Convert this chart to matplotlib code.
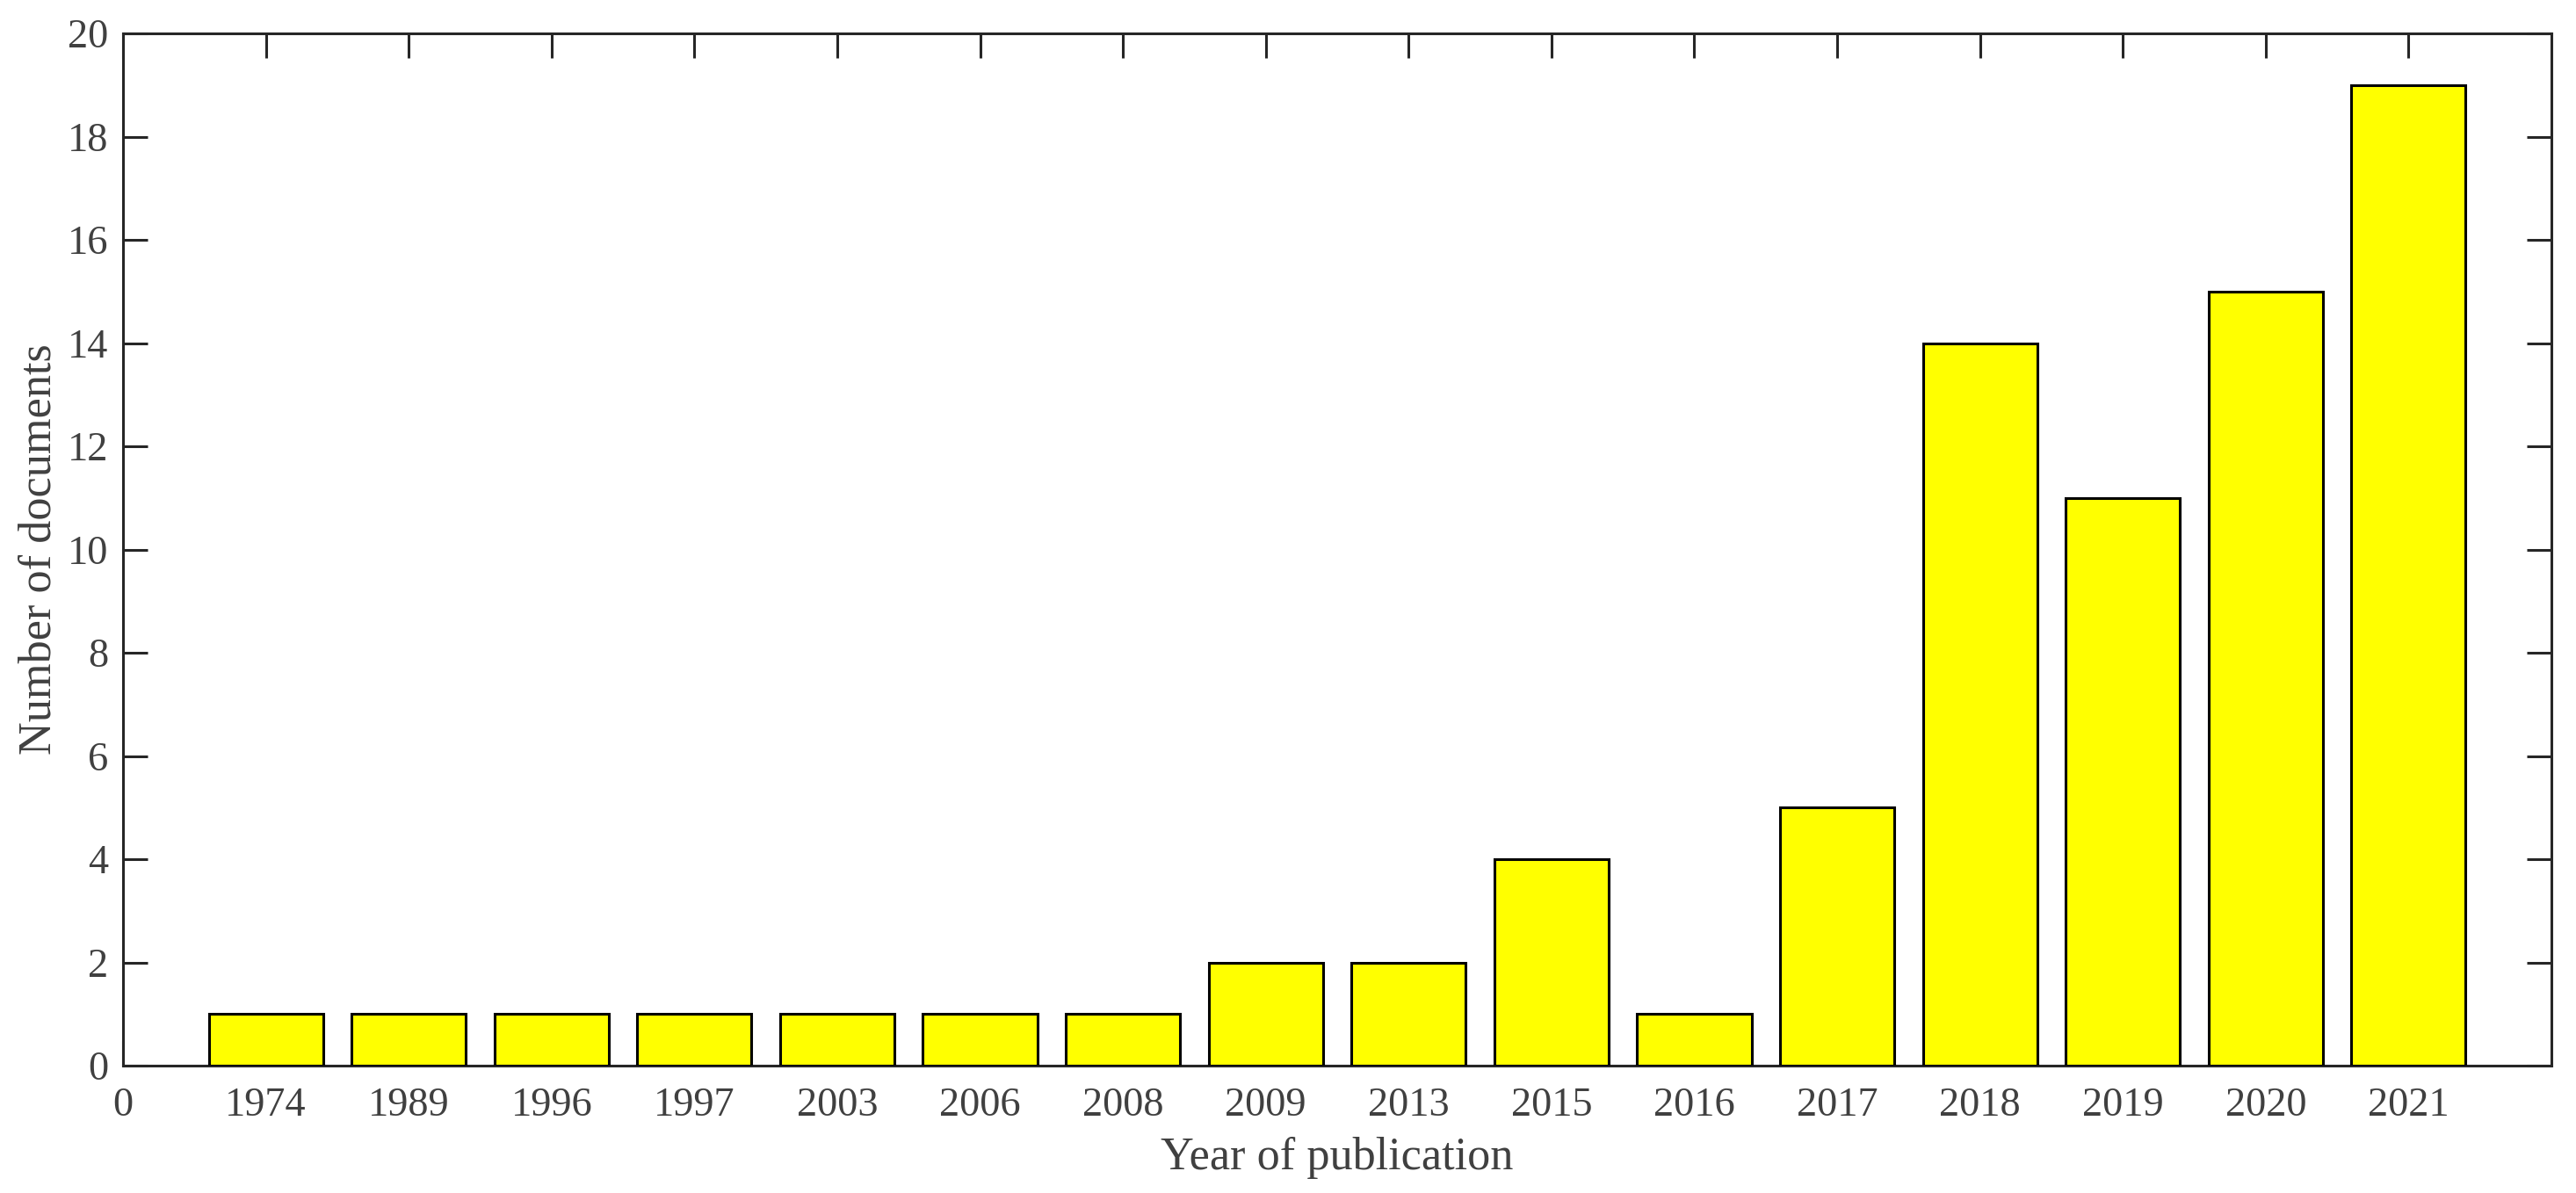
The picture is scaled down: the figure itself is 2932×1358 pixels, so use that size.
import matplotlib.pyplot as plt
import numpy as np

# donnees
annees = ['1974', '1989', '1996', '1997', '2003', '2006', '2008', '2009',
          '2013', '2015', '2016', '2017', '2018', '2019', '2020', '2021']
nb_docs = [1, 1, 1, 1, 1, 1, 1, 2, 2, 4, 1, 5, 14, 11, 15, 19]

plt.rcParams['font.family'] = ['Liberation Serif', 'DejaVu Serif']

fig = plt.figure(figsize=(14.66, 6.79), dpi=200)
ax = fig.add_axes([140/2932, 1 - 1213/1358, (2904-140)/2932, (1213-38)/1358])

pos = np.arange(1, len(annees) + 1)
ax.bar(pos, nb_docs, width=0.8, color=(1, 1, 0), edgecolor='black',
       linewidth=1.1, zorder=3)

ax.set_xlim(0, len(annees) + 1)
ax.set_ylim(0, 20)
ax.set_xticks(np.concatenate([[0], pos]))
ax.set_xticklabels(['0'] + annees)
ax.set_yticks(np.arange(0, 21, 2))

gris = '#404040'
for s in ax.spines.values():
    s.set_color('#262626')
    s.set_linewidth(1.1)
ax.tick_params(direction='in', length=10, width=1.1, color='#262626',
               top=True, right=True, labelsize=16.7, labelcolor=gris)
ax.tick_params(axis='x', pad=9)
ax.tick_params(axis='y', pad=6)

ax.set_xlabel('Year of publication', fontsize=18.8, color=gris, labelpad=5)
ax.set_ylabel('Number of documents', fontsize=18.8, color=gris, labelpad=3)

fig.savefig('out.png', dpi=200)
